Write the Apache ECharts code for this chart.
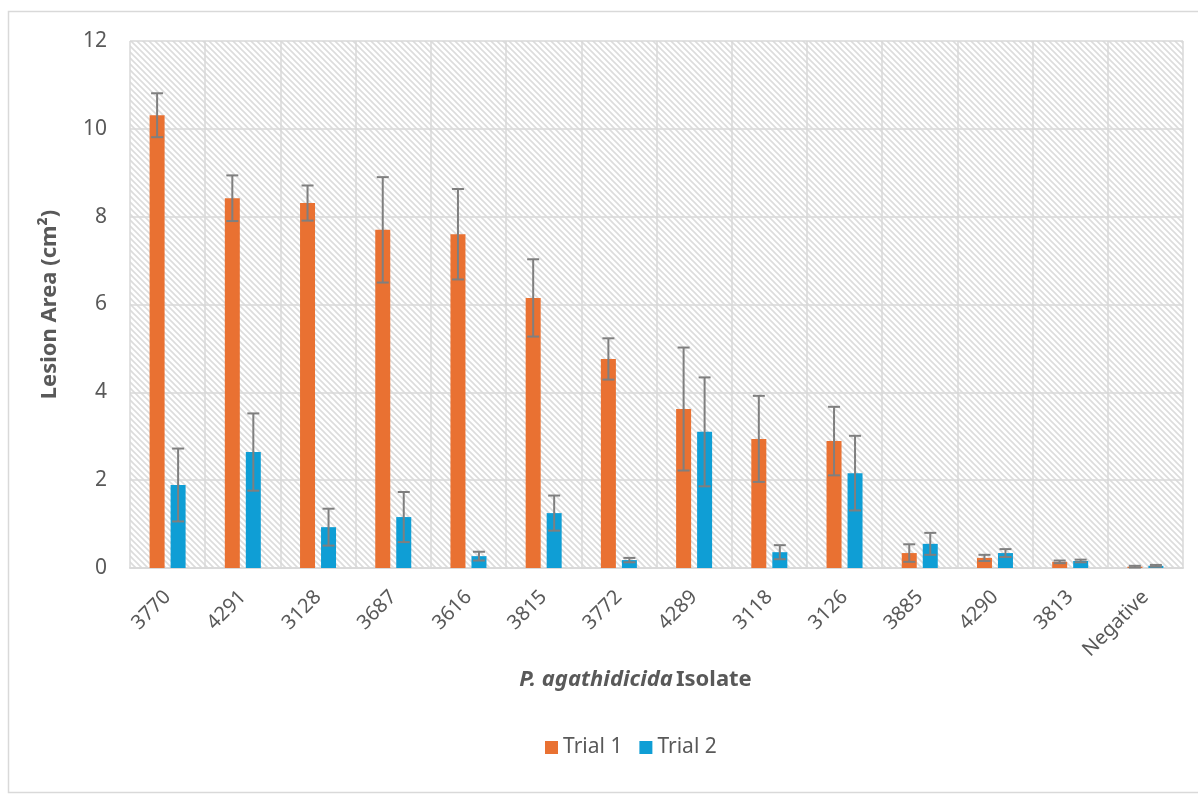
<!DOCTYPE html>
<html>
<head>
<meta charset="utf-8">
<style>
  html, body { margin: 0; padding: 0; background: #ffffff; }
  #chart { width: 1198px; height: 794px; }
</style>
<script src="https://cdn.jsdelivr.net/npm/echarts@6/dist/echarts.min.js"></script>
</head>
<body>
<div id="chart"></div>
<script>
// Isolates tested, in ranked order
const categories = ['3770', '4291', '3128', '3687', '3616', '3815', '3772', '4289', '3118', '3126', '3885', '4290', '3813', 'Negative'];

// Mean lesion area (cm²) per isolate
const trial1 = [10.31, 8.42, 8.31, 7.70, 7.60, 6.15, 4.76, 3.62, 2.94, 2.89, 0.34, 0.23, 0.14, 0.03];
const trial2 = [1.89, 2.64, 0.93, 1.16, 0.27, 1.25, 0.18, 3.10, 0.36, 2.16, 0.55, 0.34, 0.16, 0.05];

// Standard error for each mean
const trial1Err = [0.50, 0.52, 0.40, 1.20, 1.03, 0.88, 0.47, 1.40, 0.98, 0.78, 0.20, 0.07, 0.03, 0.02];
const trial2Err = [0.83, 0.88, 0.42, 0.57, 0.10, 0.40, 0.05, 1.24, 0.16, 0.85, 0.25, 0.09, 0.03, 0.02];

// Y axis ticks
const yTicks = [0, 2, 4, 6, 8, 10, 12];

const BAR_W = 15;
const BAR_GAP = 6;
const FONT = '"Noto Sans", "Open Sans", sans-serif';
const TEXT = '#595959';
const LINE = '#d9d9d9';

// Wide downward-diagonal hatch for the plot area
function hatch() {
  const s = 6;
  const c = document.createElement('canvas');
  c.width = s; c.height = s;
  const g = c.getContext('2d');
  g.fillStyle = '#ffffff';
  g.fillRect(0, 0, s, s);
  g.strokeStyle = '#dcdcdc';
  g.lineWidth = 1.6;
  g.beginPath();
  g.moveTo(-1, -1); g.lineTo(s + 1, s + 1);
  g.moveTo(-1, s - 1); g.lineTo(1, s + 1);
  g.moveTo(s - 1, -1); g.lineTo(s + 1, 1);
  g.stroke();
  return c;
}

function errorSeries(name, means, errs, offset) {
  return {
    name: name,
    type: 'custom',
    z: 5,
    silent: true,
    data: means.map((m, i) => [i, m, m - errs[i], m + errs[i]]),
    renderItem: function (params, api) {
      const i = api.value(0);
      const lo = api.coord([i, api.value(2)]);
      const hi = api.coord([i, api.value(3)]);
      const x = lo[0] + offset;
      const cap = 6;
      const style = { stroke: '#7f7f7f', lineWidth: 2 };
      return {
        type: 'group',
        children: [
          { type: 'line', shape: { x1: x, y1: lo[1], x2: x, y2: hi[1] }, style: style },
          { type: 'line', shape: { x1: x - cap, y1: lo[1], x2: x + cap, y2: lo[1] }, style: style },
          { type: 'line', shape: { x1: x - cap, y1: hi[1], x2: x + cap, y2: hi[1] }, style: style }
        ]
      };
    }
  };
}

const chart = echarts.init(document.getElementById('chart'), null, { renderer: 'canvas' });
const half = (BAR_W + BAR_GAP) / 2;

chart.setOption({
  animation: false,
  textStyle: { fontFamily: FONT },
  graphic: [{
    type: 'rect',
    shape: { x: 8.5, y: 11.5, width: 1300, height: 781 },
    style: { fill: 'none', stroke: LINE, lineWidth: 1.5 },
    silent: true,
    z: -10
  }],
  grid: {
    left: 130, right: 15, top: 41, bottom: 226,
    show: true,
    borderWidth: 0,
    backgroundColor: { image: hatch(), repeat: 'repeat' }
  },
  legend: {
    bottom: 36,
    left: 545,
    padding: 0,
    itemWidth: 13,
    itemHeight: 13,
    itemGap: 17,
    icon: 'rect',
    textStyle: { fontSize: 21, color: TEXT, fontFamily: FONT },
    data: ['Trial 1', 'Trial 2']
  },
  xAxis: {
    type: 'category',
    data: categories,
    boundaryGap: true,
    axisLine: { show: true, lineStyle: { color: LINE, width: 2 } },
    axisTick: { show: false },
    splitLine: { show: true, interval: 0, lineStyle: { color: LINE, width: 1.5 } },
    axisLabel: { rotate: 45, margin: 26, fontSize: 20, color: TEXT, interval: 0, fontFamily: FONT },
    name: '{i|P. agathidicida} {b|Isolate}',
    nameLocation: 'middle',
    nameGap: 101,
    nameTextStyle: {
      padding: [0, 42, 0, 0],
      rich: {
        i: { fontSize: 22, fontWeight: 'bold', fontStyle: 'italic', color: TEXT, fontFamily: FONT },
        b: { fontSize: 22, fontWeight: 'bold', color: TEXT, fontFamily: FONT }
      }
    }
  },
  yAxis: {
    type: 'value',
    min: yTicks[0],
    max: yTicks[yTicks.length - 1],
    interval: yTicks[1] - yTicks[0],
    axisLine: { show: false },
    axisTick: { show: false },
    splitLine: { show: true, lineStyle: { color: LINE, width: 1.5 } },
    axisLabel: { fontSize: 21, color: TEXT, margin: 23, fontFamily: FONT },
    name: 'Lesion Area (cm²)',
    nameLocation: 'middle',
    nameGap: 69,
    nameTextStyle: { fontSize: 22, fontWeight: 'bold', color: TEXT, fontFamily: FONT }
  },
  series: [
    {
      name: 'Trial 1',
      type: 'bar',
      data: trial1,
      barWidth: BAR_W,
      barGap: (BAR_GAP / BAR_W * 100) + '%',
      itemStyle: { color: '#e97132' },
      z: 3
    },
    {
      name: 'Trial 2',
      type: 'bar',
      data: trial2,
      barWidth: BAR_W,
      itemStyle: { color: '#0f9ed5' },
      z: 3
    },
    errorSeries('Trial 1 error', trial1, trial1Err, -half),
    errorSeries('Trial 2 error', trial2, trial2Err, half)
  ]
});
</script>
</body>
</html>
